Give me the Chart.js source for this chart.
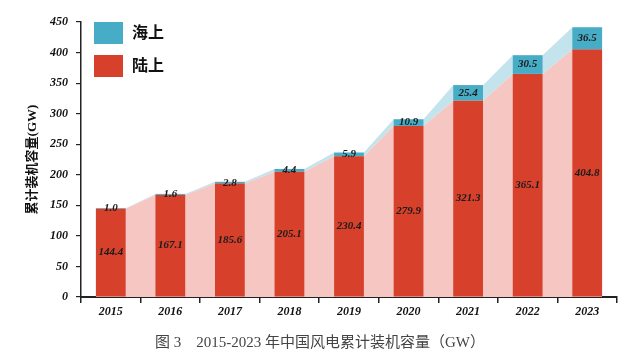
<!DOCTYPE html>
<html>
<head>
<meta charset="utf-8">
<script src="https://cdn.jsdelivr.net/npm/chart.js@4"></script>
<style>
  body { margin: 0; background: #fff; }
  #wrap { position: relative; width: 640px; height: 364px; }
  #caption {
    position: absolute; left: 0; top: 330px; width: 640px;
    text-align: center; line-height: 18px;
    font: 15px 'Liberation Serif', 'Noto Sans CJK SC', serif; color: #444;
  }
</style>
</head>
<body>
<div id="wrap">
  <canvas id="myChart" width="640" height="364"></canvas>
  <div id="caption">图 3　2015-2023 年中国风电累计装机容量（GW）</div>
</div>
<script>
// data
const years = ['2015', '2016', '2017', '2018', '2019', '2020', '2021', '2022', '2023'];
const onshore = [144.4, 167.1, 185.6, 205.1, 230.4, 279.9, 321.3, 365.1, 404.8];
const offshore = [1.0, 1.6, 2.8, 4.4, 5.9, 10.9, 25.4, 30.5, 36.5];
const seriesNames = ['陆上', '海上'];
const yMax = 450;
const yStep = 50;

const RED = '#d7412c';
const BLUE = '#47adc6';

const totals = onshore.map((v, i) => v + offshore[i]);
// the shaded bands join the bar corners, so each value gets two points (left/right edge)
const half = 0.25;
const edgePoints = vals => vals.flatMap((v, i) => [{ x: i - half, y: v }, { x: i + half, y: v }]);

const serif = "'Liberation Serif', 'Noto Sans CJK SC', serif";

// value labels in the middle of each segment
const valueLabels = {
  id: 'valueLabels',
  afterDatasetsDraw(chart) {
    const ctx = chart.ctx;
    ctx.save();
    ctx.font = 'italic bold 11px ' + serif;
    ctx.fillStyle = '#1b1b1b';
    ctx.textAlign = 'center';
    ctx.textBaseline = 'middle';
    [0, 1].forEach(di => {
      const meta = chart.getDatasetMeta(di);
      meta.data.forEach((bar, i) => {
        const v = chart.data.datasets[di].data[i];
        ctx.fillText(v.toFixed(1), bar.x, (bar.y + bar.base) / 2);
      });
    });
    ctx.restore();
  }
};

// legend boxes in the top-left corner of the plot
const cornerLegend = {
  id: 'cornerLegend',
  afterDraw(chart) {
    const { ctx, chartArea } = chart;
    const items = [[seriesNames[1], BLUE], [seriesNames[0], RED]];
    ctx.save();
    ctx.font = 'bold 16px ' + serif;
    ctx.textBaseline = 'middle';
    items.forEach(([name, color], k) => {
      const y = chartArea.top + k * 33;
      ctx.fillStyle = color;
      ctx.fillRect(chartArea.left + 13, y, 29, 22);
      ctx.fillStyle = '#111';
      ctx.fillText(name, chartArea.left + 51, y + 12);
    });
    ctx.restore();
  }
};

const ctx = document.getElementById('myChart');

new Chart(ctx, {
  data: {
    labels: years,
    datasets: [
      {
        type: 'bar',
        label: seriesNames[0],
        data: onshore,
        backgroundColor: RED,
        borderWidth: 0,
        stack: 'total',
        grouped: false,
        categoryPercentage: 1,
        barPercentage: 0.5,
        order: 0
      },
      {
        type: 'bar',
        label: seriesNames[1],
        data: offshore,
        backgroundColor: BLUE,
        borderWidth: 0,
        stack: 'total',
        grouped: false,
        categoryPercentage: 1,
        barPercentage: 0.5,
        order: 0
      },
      {
        type: 'line',
        data: edgePoints(onshore),
        xAxisID: 'xl',
        yAxisID: 'yl',
        borderWidth: 0,
        pointRadius: 0,
        fill: 'origin',
        backgroundColor: '#f6c7c2',
        order: 1
      },
      {
        type: 'line',
        data: edgePoints(totals),
        xAxisID: 'xl',
        yAxisID: 'yl',
        borderWidth: 0,
        pointRadius: 0,
        fill: '-1',
        backgroundColor: '#c4e4ed',
        order: 1
      }
    ]
  },
  options: {
    responsive: false,
    animation: false,
    layout: { padding: { top: 22, right: 23, bottom: 40, left: 0 } },
    plugins: {
      legend: { display: false },
      tooltip: { enabled: false }
    },
    scales: {
      x: {
        stacked: true,
        offset: true,
        grid: { offset: true, drawOnChartArea: false, drawTicks: true, tickLength: 6, color: '#222', lineWidth: 1.5 },
        border: { display: true, color: '#222', width: 2 },
        ticks: { color: '#111', padding: 2, font: { family: serif, size: 12, style: 'italic', weight: 'bold' } },
        afterFit: scale => { scale.height = 27; }
      },
      y: {
        stacked: true,
        min: 0,
        max: yMax,
        ticks: { stepSize: yStep, color: '#111', padding: 8, font: { family: serif, size: 12, style: 'italic', weight: 'bold' } },
        grid: { drawOnChartArea: false, drawTicks: true, tickLength: 5, color: '#222', lineWidth: 1.2 },
        border: { display: true, color: '#222', width: 1.5 },
        title: {
          display: true,
          text: '累计装机容量(GW)',
          color: '#111',
          padding: { top: 25, bottom: 0 },
          font: { family: serif, size: 13, weight: 'bold' }
        },
        afterFit: scale => { scale.width = 81; }
      },
      xl: { type: 'linear', min: -0.5, max: 8.5, display: false },
      yl: { min: 0, max: yMax, display: false }
    }
  },
  plugins: [valueLabels, cornerLegend]
});
</script>
</body>
</html>
